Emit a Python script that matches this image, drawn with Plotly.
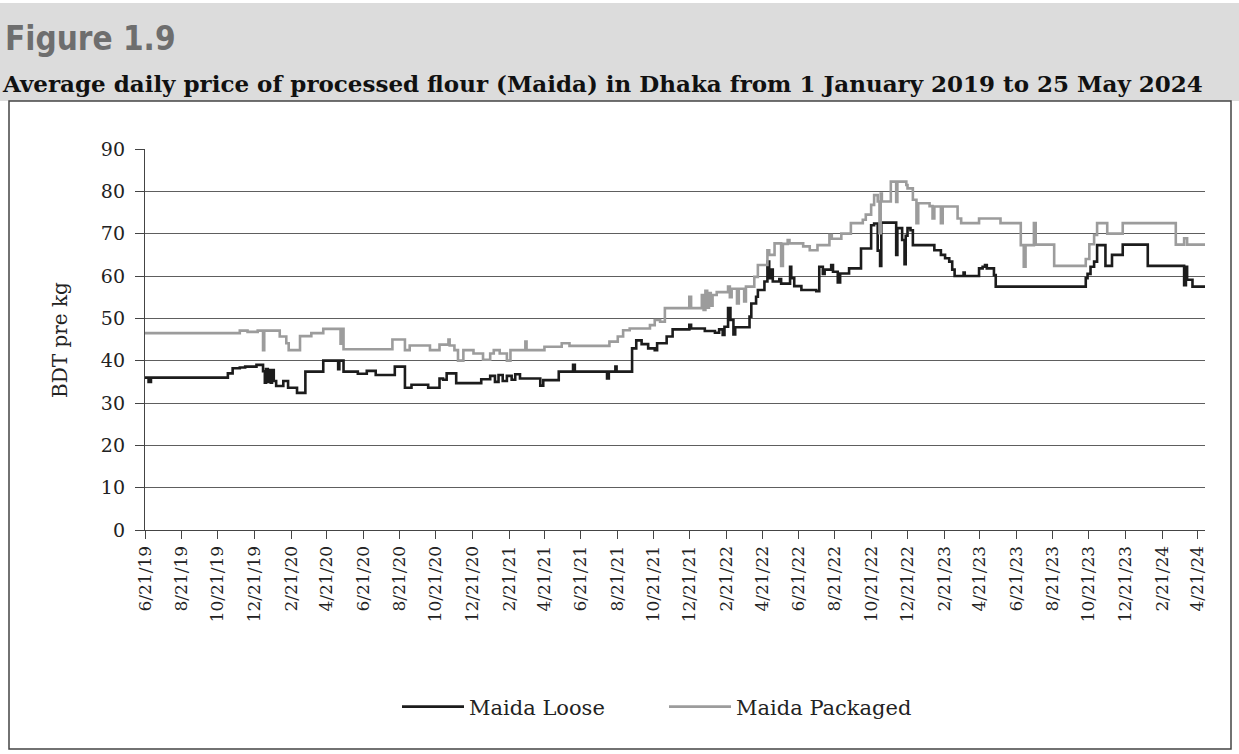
import pandas as pd
import plotly.graph_objects as go

# ---------------- data ----------------
LOOSE_DATES = [
    "2019-06-21", "2019-06-27", "2019-07-01", "2019-11-07", "2019-11-15", "2019-11-27",
    "2019-12-06", "2019-12-25", "2020-01-05", "2020-01-08", "2020-01-10", "2020-01-13",
    "2020-01-15", "2020-01-18", "2020-01-20", "2020-01-23", "2020-01-27", "2020-02-08",
    "2020-02-16", "2020-03-02", "2020-03-16", "2020-04-15", "2020-05-10", "2020-05-12",
    "2020-05-19", "2020-06-12", "2020-06-27", "2020-07-12", "2020-08-13", "2020-08-30",
    "2020-09-10", "2020-10-08", "2020-10-27", "2020-11-02", "2020-11-08", "2020-11-24",
    "2021-01-05", "2021-01-20", "2021-01-28", "2021-02-03", "2021-02-10", "2021-02-17",
    "2021-02-25", "2021-03-03", "2021-03-11", "2021-04-14", "2021-04-19", "2021-05-15",
    "2021-06-08", "2021-06-11", "2021-08-04", "2021-08-07", "2021-08-18", "2021-08-20",
    "2021-09-15", "2021-09-22", "2021-10-01", "2021-10-12", "2021-10-23", "2021-10-27",
    "2021-11-12", "2021-11-22", "2021-12-20", "2021-12-23", "2022-01-15", "2022-02-01",
    "2022-02-08", "2022-02-14", "2022-02-17", "2022-02-23", "2022-02-27", "2022-03-04",
    "2022-03-07", "2022-03-31", "2022-04-03", "2022-04-11", "2022-04-14", "2022-04-25",
    "2022-04-30", "2022-05-03", "2022-05-06", "2022-05-09", "2022-05-20", "2022-05-23",
    "2022-06-07", "2022-06-09", "2022-06-14", "2022-06-26", "2022-07-21", "2022-07-26",
    "2022-08-01", "2022-08-04", "2022-08-15", "2022-08-18", "2022-08-26", "2022-08-30",
    "2022-09-14", "2022-10-04", "2022-10-21", "2022-10-26", "2022-11-01", "2022-11-05",
    "2022-11-07", "2022-12-02", "2022-12-04", "2022-12-12", "2022-12-16", "2022-12-18",
    "2022-12-21", "2022-12-26", "2022-12-30", "2023-02-04", "2023-02-15", "2023-02-22",
    "2023-03-01", "2023-03-06", "2023-03-10", "2023-03-25", "2023-03-27", "2023-04-20",
    "2023-04-26", "2023-04-30", "2023-05-03", "2023-05-15", "2023-05-18", "2023-10-16",
    "2023-10-19", "2023-10-24", "2023-10-30", "2023-11-04", "2023-11-18", "2023-11-29",
    "2023-12-17", "2024-01-28", "2024-03-29", "2024-04-01", "2024-04-03", "2024-04-12",
    "2024-05-03",
]
LOOSE_VALUES = [
    36.0, 35.0, 36.0, 37.0, 38.2, 38.4,
    38.6, 39.0, 37.5, 34.8, 38.0, 35.0,
    37.8, 34.8, 37.8, 35.2, 34.0, 35.2,
    33.6, 32.4, 37.4, 40.0, 38.0, 40.0,
    37.4, 36.9, 37.6, 36.6, 38.6, 33.6,
    34.3, 33.6, 35.8, 35.5, 37.0, 34.7,
    35.6, 36.4, 35.0, 36.6, 35.2, 36.4,
    35.5, 36.8, 35.8, 34.1, 35.4, 37.4,
    39.0, 37.4, 35.8, 37.4, 38.6, 37.4,
    42.9, 44.8, 43.9, 42.9, 42.5, 44.1,
    45.7, 47.4, 48.5, 47.6, 47.0, 46.6,
    47.4, 46.1, 48.0, 52.4, 49.6, 46.2,
    47.9, 50.4, 53.5, 55.1, 56.7, 58.7,
    63.4, 59.5, 61.5, 58.7, 59.3, 58.2,
    62.2, 59.5, 57.6, 56.7, 56.4, 62.2,
    60.5, 61.5, 62.6, 61.0, 58.5, 60.6,
    61.8, 66.5, 72.0, 72.4, 66.0, 62.4,
    72.6, 65.0, 71.3, 68.5, 62.8, 69.5,
    71.3, 70.8, 67.3, 66.1, 65.0, 64.2,
    63.4, 61.5, 60.0, 60.8, 60.0, 61.8,
    62.2, 62.6, 61.8, 60.2, 57.5, 59.5,
    60.5, 62.2, 63.4, 67.3, 62.4, 65.0,
    67.4, 62.4, 57.8, 62.2, 59.1, 57.5,
    57.5,
]

PACKAGED_DATES = [
    "2019-06-21", "2019-11-27", "2019-12-10", "2019-12-27", "2020-01-05", "2020-01-07",
    "2020-02-02", "2020-02-13", "2020-02-17", "2020-03-07", "2020-03-26", "2020-04-15",
    "2020-05-14", "2020-05-16", "2020-05-19", "2020-08-09", "2020-08-30", "2020-09-07",
    "2020-10-11", "2020-10-27", "2020-11-11", "2020-11-13", "2020-11-21", "2020-11-27",
    "2020-12-06", "2020-12-23", "2021-01-08", "2021-01-20", "2021-01-26", "2021-02-05",
    "2021-02-17", "2021-02-23", "2021-03-20", "2021-03-22", "2021-04-21", "2021-05-20",
    "2021-06-02", "2021-08-08", "2021-08-22", "2021-08-31", "2021-09-11", "2021-10-15",
    "2021-10-23", "2021-11-01", "2021-11-09", "2021-12-20", "2021-12-23", "2022-01-10",
    "2022-01-13", "2022-01-16", "2022-01-19", "2022-01-22", "2022-01-25", "2022-01-28",
    "2022-02-04", "2022-02-23", "2022-02-26", "2022-03-01", "2022-03-10", "2022-03-13",
    "2022-03-22", "2022-03-25", "2022-04-08", "2022-04-14", "2022-04-30", "2022-05-03",
    "2022-05-12", "2022-05-23", "2022-05-26", "2022-06-03", "2022-06-06", "2022-06-29",
    "2022-07-10", "2022-07-23", "2022-08-12", "2022-08-16", "2022-09-01", "2022-09-17",
    "2022-10-07", "2022-10-12", "2022-10-21", "2022-10-26", "2022-11-01", "2022-11-04",
    "2022-11-06", "2022-11-08", "2022-11-23", "2022-12-02", "2022-12-04", "2022-12-19",
    "2022-12-21", "2022-12-30", "2023-01-05", "2023-01-08", "2023-01-27", "2023-02-01",
    "2023-02-04", "2023-02-15", "2023-02-18", "2023-03-15", "2023-03-21", "2023-04-20",
    "2023-05-26", "2023-06-29", "2023-07-04", "2023-07-07", "2023-07-21", "2023-07-24",
    "2023-08-24", "2023-10-16", "2023-10-22", "2023-10-30", "2023-11-04", "2023-11-21",
    "2023-12-17", "2024-03-15", "2024-03-29", "2024-04-03", "2024-05-03",
]
PACKAGED_VALUES = [
    46.5, 47.1, 46.8, 47.1, 42.5, 47.1,
    45.7, 44.1, 42.5, 45.8, 46.5, 47.5,
    44.0, 47.5, 42.7, 45.0, 42.5, 43.6,
    42.5, 43.8, 45.0, 43.6, 42.5, 40.0,
    42.5, 41.7, 40.2, 41.7, 42.5, 41.7,
    40.0, 42.5, 44.5, 42.5, 43.3, 44.1,
    43.5, 44.5, 45.7, 47.2, 47.6, 48.4,
    49.6, 49.2, 52.4, 55.1, 52.4, 55.5,
    52.0, 56.5, 52.5, 56.0, 53.0, 55.5,
    56.2, 57.5, 55.0, 57.0, 53.5, 57.0,
    54.0, 57.5, 59.8, 62.6, 66.1, 65.0,
    67.7, 62.4, 67.6, 68.5, 67.7, 67.0,
    66.1, 67.3, 69.7, 68.8, 70.0, 72.5,
    73.3, 74.5, 76.8, 79.1, 77.6, 70.1,
    79.5, 77.6, 82.3, 77.5, 82.3, 81.5,
    80.7, 78.0, 72.5, 77.2, 76.5, 73.6,
    76.4, 72.5, 76.4, 73.6, 72.5, 73.6,
    72.5, 67.3, 62.2, 67.3, 72.5, 67.4,
    62.4, 64.0, 67.5, 69.7, 72.5, 70.0,
    72.5, 67.4, 68.9, 67.4, 67.4,
]

TICK_LABELS = [
    "6/21/19", "8/21/19", "10/21/19", "12/21/19", "2/21/20", "4/21/20",
    "6/21/20", "8/21/20", "10/21/20", "12/21/20", "2/21/21", "4/21/21",
    "6/21/21", "8/21/21", "10/21/21", "12/21/21", "2/21/22", "4/21/22",
    "6/21/22", "8/21/22", "10/21/22", "12/21/22", "2/21/23", "4/21/23",
    "6/21/23", "8/21/23", "10/21/23", "12/21/23", "2/21/24", "4/21/24",
]
Y_TICKS = [0, 10, 20, 30, 40, 50, 60, 70, 80, 90]
X_RANGE = ["2019-06-21", "2024-05-03"]

FIG_LABEL = "Figure 1.9"
SUBTITLE = "Average daily price of processed flour (Maida) in Dhaka from 1 January 2019 to 25 May 2024"
Y_TITLE = "BDT pre kg"

# ---------------- figure ----------------
W, H = 1239, 754
L, R, T, B = 145, 1205, 149, 530          # plot area in pixels


def px(x):
    return (x - L) / (R - L)


def py(y):
    return (B - y) / (B - T)


tick_dates = pd.to_datetime(TICK_LABELS, format="%m/%d/%y")

fig = go.Figure()
fig.add_trace(go.Scatter(
    x=pd.to_datetime(LOOSE_DATES), y=LOOSE_VALUES, name="Maida Loose",
    mode="lines", line=dict(color="#1c1c1c", width=2.6, shape="hv"),
))
fig.add_trace(go.Scatter(
    x=pd.to_datetime(PACKAGED_DATES), y=PACKAGED_VALUES, name="Maida Packaged",
    mode="lines", line=dict(color="#9c9c9c", width=2.6, shape="hv"),
))

serif = "DejaVu Serif"
condensed = "'Liberation Sans Narrow', 'DejaVu Sans Condensed', 'Roboto Condensed', Roboto, sans-serif"

fig.update_layout(
    width=W, height=H,
    margin=dict(l=L, r=W - R, t=T, b=H - B, pad=0),
    paper_bgcolor="white", plot_bgcolor="white",
    font=dict(family=serif, color="#222222"),
    showlegend=True,
    legend=dict(
        orientation="h", x=px(397), xanchor="left", y=py(707), yanchor="middle",
        font=dict(family=serif, size=21, color="#222222"),
        itemwidth=62, entrywidth=190, tracegroupgap=0, bgcolor="rgba(0,0,0,0)",
    ),
    xaxis=dict(
        type="date", range=X_RANGE,
        tickmode="array", tickvals=tick_dates, ticktext=TICK_LABELS,
        tickangle=-90, tickfont=dict(family=serif, size=17, color="#222222"),
        ticks="outside", ticklen=8, tickcolor="#444444", tickwidth=1,
        showline=True, linecolor="#444444", linewidth=1.3,
        showgrid=False, zeroline=False,
    ),
    yaxis=dict(
        range=[0, 90], tickmode="array", tickvals=Y_TICKS,
        tickfont=dict(family=serif, size=19, color="#222222"),
        ticks="outside", ticklen=9, tickcolor="#444444", tickwidth=1,
        ticklabelstandoff=6,
        showline=True, linecolor="#444444", linewidth=1.3,
        showgrid=True, gridcolor="#5e5e5e", gridwidth=1, zeroline=False,
    ),
    shapes=[
        dict(type="rect", xref="paper", yref="paper", layer="below",
             x0=px(-2), x1=px(W + 2), y0=py(101), y1=py(3),
             fillcolor="#dcdcdc", line=dict(width=0)),
        dict(type="rect", xref="paper", yref="paper", layer="below",
             x0=px(9), x1=px(1231), y0=py(749), y1=py(101),
             fillcolor="white", line=dict(color="#444444", width=1.5)),
    ],
    annotations=[
        dict(text=FIG_LABEL, xref="paper", yref="paper", x=px(3), y=py(39),
             xanchor="left", yanchor="middle", showarrow=False,
             font=dict(family=condensed, size=33, color="#6e6e6e", weight="bold")),
        dict(text=SUBTITLE, xref="paper", yref="paper", x=px(0), y=py(84),
             xanchor="left", yanchor="middle", showarrow=False,
             font=dict(family=serif, size=23, color="#111111", weight="bold")),
        dict(text=Y_TITLE, xref="paper", yref="paper", x=px(60), y=py(340),
             xanchor="center", yanchor="middle", showarrow=False, textangle=-90,
             font=dict(family=serif, size=20, color="#222222")),
    ],
)

fig.write_html("out.html", config={"displayModeBar": False},
               post_script="document.body.style.margin='0';")
